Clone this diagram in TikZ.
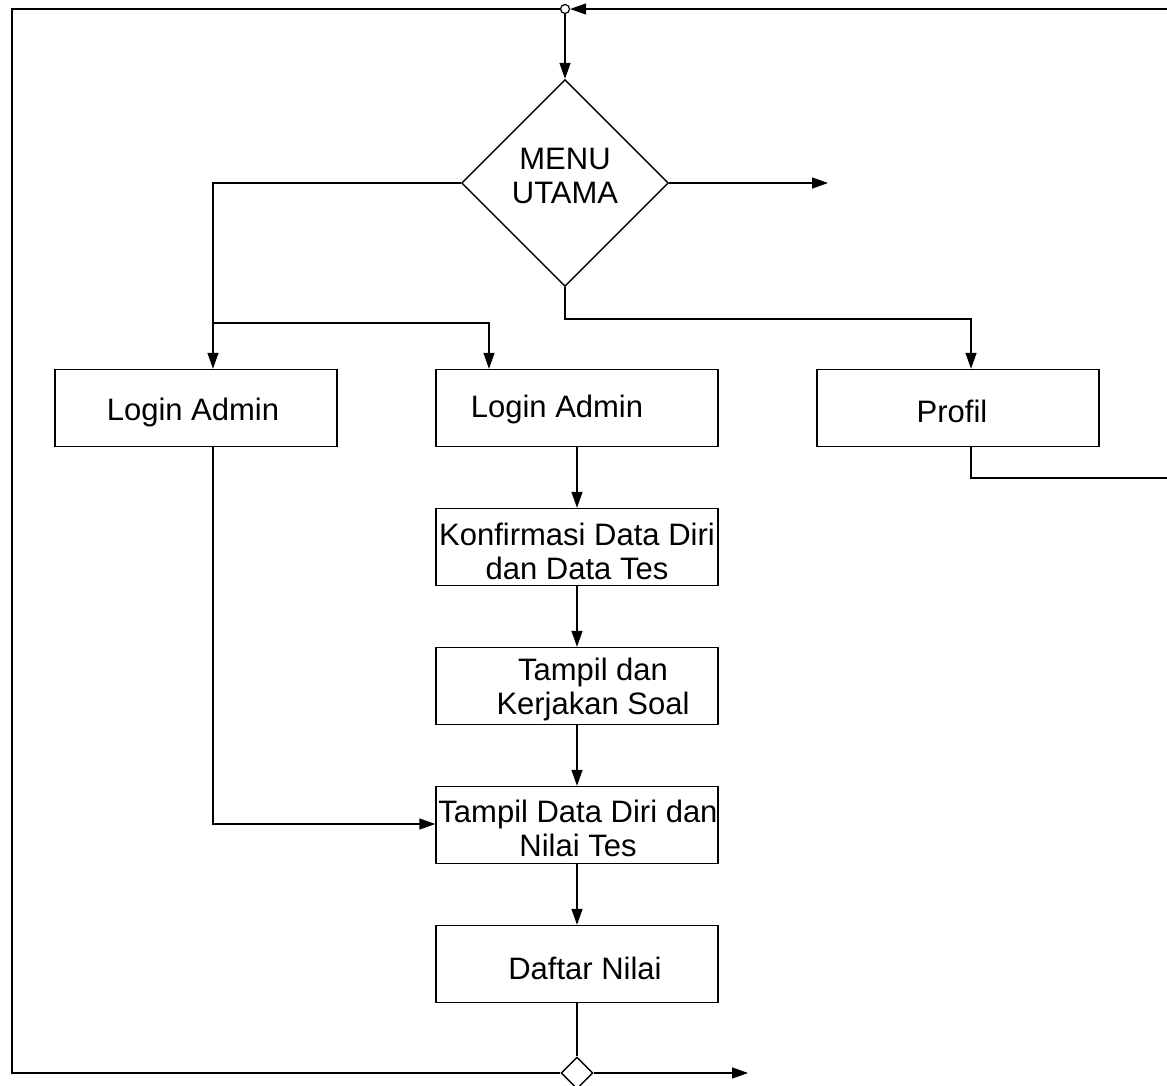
\documentclass[tikz,border=0pt]{standalone}
\usepackage{fontspec}
\setmainfont{Liberation Sans}
\usetikzlibrary{arrows.meta,shapes.geometric}
\tikzset{
  box/.style={draw, line width=1.4pt, minimum width=282pt, minimum height=77pt, inner sep=0pt},
  lbl/.style={inner sep=0pt, align=center, font=\fontsize{31}{34}\selectfont},
  conn/.style={line width=1.4pt},
  arr/.style={conn, -{Triangle[length=16pt,width=11pt]}},
}
\begin{document}
\begin{tikzpicture}[x=1pt,y=-1pt]
\useasboundingbox (0,0) rectangle (1167,1086);
\clip (0,0) rectangle (1167,1086);
% main decision
\node[draw, diamond, line width=1.4pt, minimum width=207pt, minimum height=207pt, inner sep=0pt] (menu) at (565,183) {};
\node[lbl] (menut) at (565,176) {MENU\\UTAMA};
% boxes
\node[box] (la1) at (196,408) {};
\node[lbl] (la1t) at (193,412) {Login Admin};
\node[box] (la2) at (577,408) {};
\node[lbl] (la2t) at (557,409) {Login Admin};
\node[box] (prof) at (958,408) {};
\node[lbl] (proft) at (952,411) {Profil};
\node[box] (konf) at (577,547) {};
\node[lbl] (konft) at (577,551) {Konfirmasi Data Diri\\dan Data Tes};
\node[box] (kerj) at (577,686) {};
\node[lbl] (kerjt) at (593,689) {Tampil dan\\Kerjakan Soal};
\node[box] (nilai) at (577,825) {};
\node[lbl] (nilait) at (578,828) {Tampil Data Diri dan\\Nilai Tes};
\node[box] (daftar) at (577,964) {};
\node[lbl] (daftart) at (585,968) {Daftar Nilai};
% connector points
\node[draw, circle, line width=1.2pt, minimum size=9pt, inner sep=0pt, fill=white] (join) at (565,9) {};
\node[draw, diamond, line width=1.4pt, minimum width=32pt, minimum height=32pt, inner sep=0pt] (end) at (577,1073) {};
\coordinate (topR) at (1167,9);
\coordinate (topL) at (12,9);
\coordinate (botL) at (12,1073);
\coordinate (exitR) at (828,183);
\coordinate (exitB) at (748,1073);
\coordinate (profR) at (1167,478);
% connectors
\draw[arr] (topR) -- (join);
\draw[arr] (join) -- (menu.north);
\draw[arr] (menu.east) -- (exitR);
\draw[arr] (menu.west) -| (la1.north -| 213,0);
\draw[arr] (213,323) -| (la2.north -| 489,0);
\draw[arr] (menu.south) |- (971,319) -- (prof.north -| 971,0);
\draw[conn] (prof.south -| 971,0) |- (profR);
\draw[arr] (la1.south -| 213,0) |- (nilai.west |- 0,824);
\draw[arr] (la2) -- (konf);
\draw[arr] (konf) -- (kerj);
\draw[arr] (kerj) -- (nilai);
\draw[arr] (nilai) -- (daftar);
\draw[conn] (daftar) -- (end);
\draw[arr] (end.east) -- (exitB);
\draw[conn] (end.west) -- (botL) -- (topL) -- (join);
\end{tikzpicture}
\end{document}
